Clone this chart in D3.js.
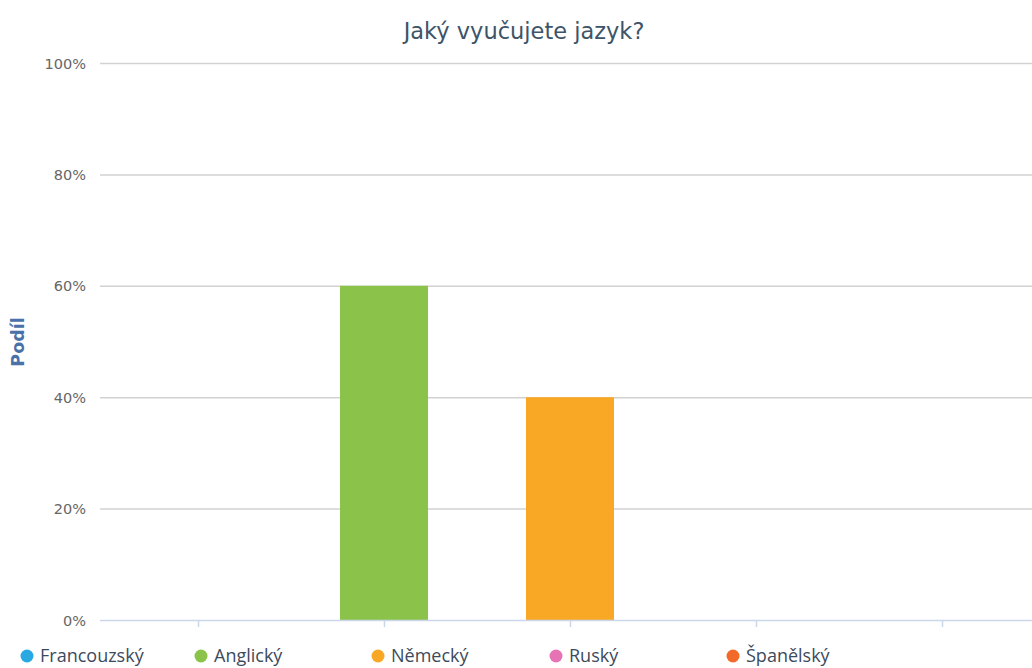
<!DOCTYPE html>
<html>
<head>
<meta charset="utf-8">
<script src="https://cdn.jsdelivr.net/npm/d3@7"></script>
<style>
  body { margin: 0; background: #fff; }
  svg { display: block; }
  .grid line { stroke: #d2d2d2; stroke-width: 1.5; }
  .grid .domain { display: none; }
  .y-axis text { fill: #666; font-family: "DejaVu Sans", sans-serif; font-size: 14.5px; }
  .y-axis .domain, .y-axis line { display: none; }
  .x-axis line { stroke: #ccd6eb; stroke-width: 1.5; }
  .x-axis .domain { display: none; }
</style>
</head>
<body>
<svg id="chart"></svg>
<script>
const width = 1032;
const height = 668;
const margin = { top: 63, right: 0, bottom: 48, left: 100 };

// data
const categories = ["Francouzský", "Anglický", "Německý", "Ruský", "Španělský"];
const shares = [0, 60, 40, 0, 0];
const colors = ["#29a9e1", "#8bc34a", "#f9a825", "#e673b3", "#f26a2a"];
const yTicks = [0, 20, 40, 60, 80, 100];

const svg = d3.select("#chart")
    .attr("width", width)
    .attr("height", height);

const plotBottom = height - margin.bottom;   // 620

// x: one band per language
const x = d3.scaleBand()
    .domain(categories)
    .range([105, 1035])
    .paddingInner(0.527)
    .paddingOuter(0.2635);

const y = d3.scaleLinear()
    .domain([0, 100])
    .range([plotBottom, margin.top]);

// title
svg.append("text")
    .attr("x", 524)
    .attr("y", 39)
    .attr("text-anchor", "middle")
    .attr("fill", "#3d5468")
    .attr("font-family", "DejaVu Sans, sans-serif")
    .attr("font-size", 22.5)
    .text("Jaký vyučujete jazyk?");

// grid
svg.append("g")
    .attr("class", "grid")
    .attr("transform", `translate(${margin.left},0)`)
    .call(d3.axisLeft(y).tickValues(yTicks.filter(d => d > 0)).tickSize(-(width - margin.left)).tickFormat(""));

// y axis labels
svg.append("g")
    .attr("class", "y-axis")
    .attr("transform", `translate(${margin.left - 14},0)`)
    .call(d3.axisLeft(y).tickValues(yTicks).tickSize(0).tickPadding(0).tickFormat(d => d + "%"))
    .selectAll("text")
    .attr("dy", "0.35em");

// y axis title
svg.append("text")
    .attr("transform", `translate(24,342) rotate(-90)`)
    .attr("text-anchor", "middle")
    .attr("fill", "#4a71a8")
    .attr("font-family", "DejaVu Sans, sans-serif")
    .attr("font-weight", "bold")
    .attr("font-size", 17.5)
    .text("Podíl");

// bars
svg.append("g")
    .selectAll("rect")
    .data(categories)
    .enter().append("rect")
    .attr("x", d => x(d))
    .attr("width", x.bandwidth())
    .attr("y", (d, i) => y(shares[i]))
    .attr("height", (d, i) => plotBottom - y(shares[i]))
    .attr("fill", (d, i) => colors[i]);

// x axis line + ticks
svg.append("line")
    .attr("x1", margin.left)
    .attr("x2", width)
    .attr("y1", plotBottom + 0.5)
    .attr("y2", plotBottom + 0.5)
    .attr("stroke", "#ccd6eb")
    .attr("stroke-width", 1.5);

const xCenters = d3.scalePoint()
    .domain(categories)
    .range([x(categories[0]) + x.bandwidth() / 2, x(categories[4]) + x.bandwidth() / 2]);

svg.append("g")
    .attr("class", "x-axis")
    .attr("transform", `translate(0,${plotBottom})`)
    .call(d3.axisBottom(xCenters).tickSize(7).tickFormat(""));

// legend
const legendX = [27, 201, 378, 556, 733];
const legend = svg.append("g")
    .selectAll("g")
    .data(categories)
    .enter().append("g")
    .attr("transform", (d, i) => `translate(${legendX[i]},656)`);

legend.append("circle")
    .attr("r", 6.5)
    .attr("fill", (d, i) => colors[i]);

legend.append("text")
    .attr("x", 13)
    .attr("dy", "0.35em")
    .attr("fill", "#3d4a5c")
    .attr("font-family", "Open Sans, sans-serif")
    .attr("font-size", 18)
    .text(d => d);
</script>
</body>
</html>
